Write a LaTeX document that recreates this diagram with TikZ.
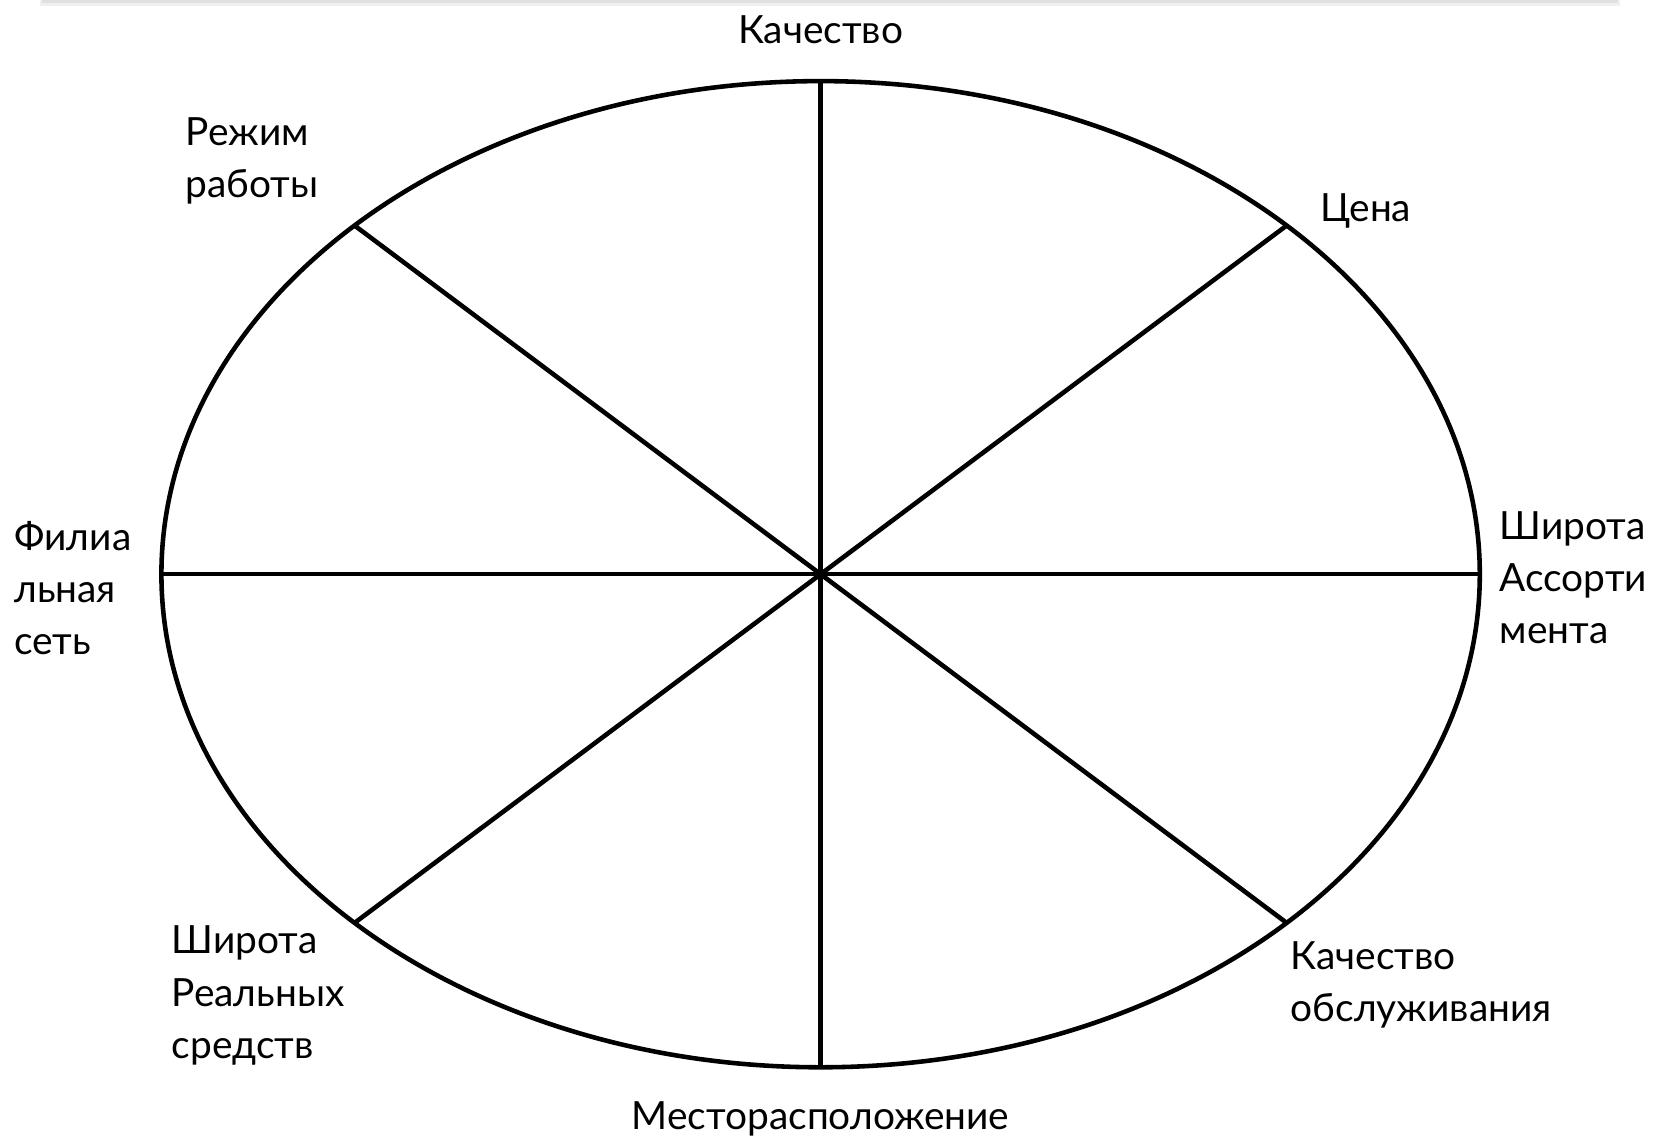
\documentclass[tikz,border=0pt]{standalone}
\usepackage{fontspec}
\setmainfont{Lato}
\begin{document}
\begin{tikzpicture}[x=0.01cm,y=-0.01cm,
  spoke/.style={line width=1.3pt,black},
  rim/.style={line width=1.3pt,black},
  lbl/.style={inner sep=0pt,font=\fontsize{11.05}{14.8}\selectfont,text=black},
  lblL/.style={lbl,align=left,anchor=west}]
\fill[white] (0,0) rectangle (1658,1143);
\useasboundingbox (0,0) rectangle (1658,1143);
\fill[black!6] (40,0) rectangle (1620,6);
\fill[black!12] (42,0) rectangle (1618,3);
\coordinate (c) at (820.6,574.2);
\draw[rim] (c) ellipse [x radius=6.588cm, y radius=4.928cm];
\coordinate (n) at (820.6,81.4);
\coordinate (s) at (820.6,1067.0);
\coordinate (w) at (161.8,574.2);
\coordinate (e) at (1479.4,574.2);
\coordinate (ne) at (1286.4,225.7);
\coordinate (nw) at (354.8,225.7);
\coordinate (se) at (1286.4,922.7);
\coordinate (sw) at (354.8,922.7);
\draw[spoke] (n) -- (s);
\draw[spoke] (w) -- (e);
\draw[spoke] (nw) -- (se);
\draw[spoke] (ne) -- (sw);
\node[lbl] (tq) at (820.6,29.6) {Качество};
\node[lbl] (tm) at (820.6,1118.7) {Месторасположение};
\node[lblL] (tr) at (185,160.5) {Режим\\работы};
\node[lblL] (tc) at (1319.6,211.4) {Цена};
\node[lblL] (tf) at (13.7,588) {Филиа\\льная\\сеть};
\node[lblL] (ta) at (1499,578) {Широта\\Ассорти\\мента};
\node[lblL] (tp) at (171,995.5) {Широта\\Реальных\\средств};
\node[lblL] (to) at (1290,985) {Качество\\обслуживания};
\end{tikzpicture}
\end{document}
